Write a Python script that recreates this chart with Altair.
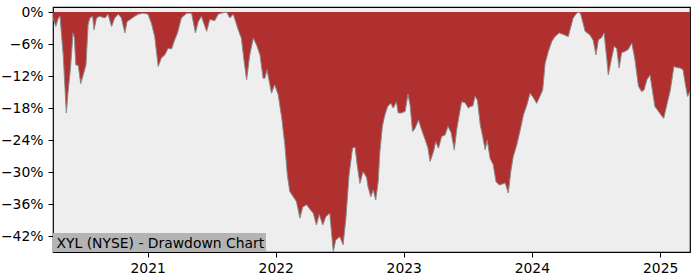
import altair as alt
import pandas as pd

dates = [
    "2020-04-06", "2020-04-14", "2020-04-21", "2020-04-26", "2020-05-05", "2020-05-14", "2020-05-19",
    "2020-05-26", "2020-06-02", "2020-06-06", "2020-06-10", "2020-06-17", "2020-06-24", "2020-07-01",
    "2020-07-09", "2020-07-15", "2020-07-20", "2020-07-28", "2020-08-01", "2020-08-08", "2020-08-17",
    "2020-09-01", "2020-09-10", "2020-09-20", "2020-09-29", "2020-10-09", "2020-10-18", "2020-10-28",
    "2020-11-03", "2020-11-16", "2020-11-25", "2020-12-05", "2020-12-19",
    "2021-01-02", "2021-01-12", "2021-01-21", "2021-01-31", "2021-02-09", "2021-02-19", "2021-02-28",
    "2021-03-10", "2021-03-19", "2021-03-27", "2021-04-07", "2021-04-22", "2021-05-06", "2021-05-17",
    "2021-05-25", "2021-06-03", "2021-06-18", "2021-06-27", "2021-07-11", "2021-07-21", "2021-07-30",
    "2021-08-14", "2021-08-23", "2021-09-02", "2021-09-16", "2021-09-25", "2021-10-03", "2021-10-10",
    "2021-10-19", "2021-10-29", "2021-11-07", "2021-11-17", "2021-11-26", "2021-12-01", "2021-12-07",
    "2021-12-20", "2021-12-29",
    "2022-01-08", "2022-01-18", "2022-01-27", "2022-02-03", "2022-02-10", "2022-02-20", "2022-03-01",
    "2022-03-11", "2022-03-19", "2022-03-30", "2022-04-08", "2022-04-18", "2022-04-27", "2022-05-05",
    "2022-05-15", "2022-05-24", "2022-06-04", "2022-06-14", "2022-06-21", "2022-07-03", "2022-07-12",
    "2022-07-20", "2022-07-29", "2022-08-08", "2022-08-15", "2022-08-21", "2022-08-29", "2022-09-07",
    "2022-09-17", "2022-09-21", "2022-09-29", "2022-10-06", "2022-10-13", "2022-10-20", "2022-10-25",
    "2022-11-01", "2022-11-08", "2022-11-16", "2022-11-25", "2022-12-02", "2022-12-11", "2022-12-16",
    "2022-12-26",
    "2023-01-05", "2023-01-13", "2023-01-19", "2023-01-26", "2023-02-02", "2023-02-12", "2023-02-21",
    "2023-03-03", "2023-03-11", "2023-03-17", "2023-03-27", "2023-04-02", "2023-04-10", "2023-04-19",
    "2023-04-29", "2023-05-07", "2023-05-16", "2023-05-25", "2023-06-01", "2023-06-08", "2023-06-15",
    "2023-06-25", "2023-07-04", "2023-07-09", "2023-07-17", "2023-07-23", "2023-07-30", "2023-08-07",
    "2023-08-14", "2023-08-21", "2023-08-27", "2023-09-04", "2023-09-13", "2023-09-21", "2023-10-01",
    "2023-10-10", "2023-10-17", "2023-10-26", "2023-11-02", "2023-11-09", "2023-11-19", "2023-11-29",
    "2023-12-08", "2023-12-18", "2023-12-27",
    "2024-01-05", "2024-01-15", "2024-01-24", "2024-02-01", "2024-02-08", "2024-02-17", "2024-02-27",
    "2024-03-07", "2024-03-19", "2024-03-31", "2024-04-14", "2024-04-19", "2024-04-28", "2024-05-08",
    "2024-05-15", "2024-05-20", "2024-06-01", "2024-06-15", "2024-06-24", "2024-07-02", "2024-07-09",
    "2024-07-18", "2024-07-25", "2024-08-02", "2024-08-06", "2024-08-16", "2024-08-23", "2024-08-30",
    "2024-09-06", "2024-09-13", "2024-09-22", "2024-10-02", "2024-10-12", "2024-10-21", "2024-10-31",
    "2024-11-09", "2024-11-16", "2024-11-24", "2024-12-03", "2024-12-11", "2024-12-17", "2024-12-27",
    "2025-01-07", "2025-01-11", "2025-01-21", "2025-01-30", "2025-02-09", "2025-02-18", "2025-02-27",
    "2025-03-07", "2025-03-14", "2025-03-20", "2025-03-27",
]

drawdown = [
    -1.0, -2.7, -1.1, -0.8, -8.0, -18.9, -14.9,
    -10.4, -3.9, -4.8, -9.9, -10.0, -13.4, -11.8,
    -9.9, -2.4, -1.1, -0.8, -3.3, -1.1, -0.8,
    -1.1, -0.4, -2.7, -1.1, -0.4, -1.1, -3.9,
    -1.8, -1.2, -0.8, -0.4, -0.2,
    -0.4, -2.2, -4.6, -10.2, -8.6, -8.0, -6.8,
    -6.9, -5.2, -3.9, -1.1, -0.2, -0.2, -3.9,
    -1.8, -0.8, -3.6, -1.4, -1.6, -0.4, -0.2,
    0.0, -1.1, -0.4, -3.3, -4.9, -9.3, -12.7,
    -8.0, -4.9, -6.1, -8.0, -12.4, -12.4, -10.8,
    -15.2, -13.6,
    -15.5, -19.8, -24.9, -30.5, -33.6, -34.6, -35.5,
    -38.6, -36.5, -36.1, -36.9, -37.7, -39.9, -37.9,
    -39.9, -38.3, -37.7, -44.9, -42.7, -42.1, -43.6,
    -38.6, -30.5, -25.5, -25.3, -28.6, -32.1, -29.9,
    -31.0, -32.7, -34.6, -33.3, -35.2, -31.8, -26.1,
    -21.4, -19.3, -17.7, -17.1, -18.0, -16.8, -18.9,
    -18.9,
    -18.6, -15.4, -17.4, -22.4, -21.8, -20.2, -22.1,
    -23.9, -25.5, -28.0, -26.1, -24.3, -25.5, -23.3,
    -23.0, -21.4, -22.6, -25.8, -22.0, -19.3, -16.8,
    -17.0, -18.0, -17.7, -17.6, -15.8, -16.5, -21.1,
    -23.3, -25.8, -24.0, -27.4, -28.6, -31.8, -32.4,
    -32.2, -32.0, -33.9, -29.9, -27.1, -24.9, -22.1,
    -19.3, -17.4, -15.2,
    -16.0, -17.1, -15.8, -14.6, -9.6, -7.4, -5.5,
    -4.6, -3.9, -4.2, -4.6, -3.3, -1.1, -0.2,
    0.0, -0.5, -3.6, -4.3, -5.3, -8.0, -5.2,
    -4.8, -3.9, -8.9, -11.8, -8.5, -6.4, -6.8,
    -10.5, -7.6, -7.4, -7.0, -5.8, -8.9, -13.9,
    -14.9, -14.6, -12.7, -11.8, -15.2, -17.7, -18.6,
    -19.6, -19.9, -17.1, -14.6, -10.2, -10.4, -10.5,
    -10.8, -13.6, -15.8, -14.9,
]

y_ticks = [0, -6, -12, -18, -24, -30, -36, -42]
x_tick_years = [2021, 2022, 2023, 2024, 2025]
label_text = "XYL (NYSE) - Drawdown Chart"

df = pd.DataFrame({"date": dates, "dd": drawdown})

FONT = "DejaVu Sans"
FS = 13.9

x_enc = alt.X(
    "date:T",
    scale=alt.Scale(
        domain=[alt.DateTime(year=2020, month=4, date=6, utc=True),
                alt.DateTime(year=2025, month=3, date=27, utc=True)],
        nice=False,
    ),
    axis=alt.Axis(
        values=[alt.DateTime(year=yy, month=1, date=1, utc=True) for yy in x_tick_years],
        labelExpr="utcFormat(datum.value, '%Y')",
        title=None, tickCount=20,
    ),
)
y_scale = alt.Scale(domain=[-44.95, 0.95], nice=False, zero=False)
y_axis = alt.Axis(
    values=y_ticks,
    labelExpr="datum.value == 0 ? '0%' : '\u2212' + abs(datum.value) + '%'",
    title=None, labelPadding=5, tickCount=20,
)

area = alt.Chart(df).mark_area(color="#b03030", opacity=1).encode(
    x=x_enc,
    y=alt.Y("dd:Q", scale=y_scale, axis=y_axis),
    y2=alt.datum(0),
)
line = alt.Chart(df).mark_line(color="#8a8a8a", strokeWidth=1).encode(
    x=alt.X("date:T"),
    y=alt.Y("dd:Q"),
)

box = alt.Chart(df).mark_rect(color="#b4b4b4").encode(
    x=alt.value(0), x2=alt.value(212.5), y=alt.value(226.5), y2=alt.value(245)
)
txt = alt.Chart(pd.DataFrame({"t": [label_text]})).mark_text(
    align="left", baseline="alphabetic", font=FONT, fontSize=FS, color="black"
).encode(x=alt.value(3.5), y=alt.value(240.5), text="t:N")

chart = alt.layer(area, line, box, txt).properties(
    width=637, height=245,
    background="white",
    padding={"left": 53, "top": 7, "right": 10, "bottom": 28},
    autosize=alt.AutoSizeParams(type="none"),
).configure_view(
    fill="#eeeeee", stroke="black", strokeWidth=1.2
).configure_axis(
    grid=False, domain=False, labelOverlap=False, labelFlush=False,
    tickColor="black", tickSize=5, tickWidth=1, labelPadding=4,
    labelFont=FONT, labelFontSize=FS, labelColor="black",
)

chart.save("out.html", embed_options={"renderer": "svg", "actions": False})
